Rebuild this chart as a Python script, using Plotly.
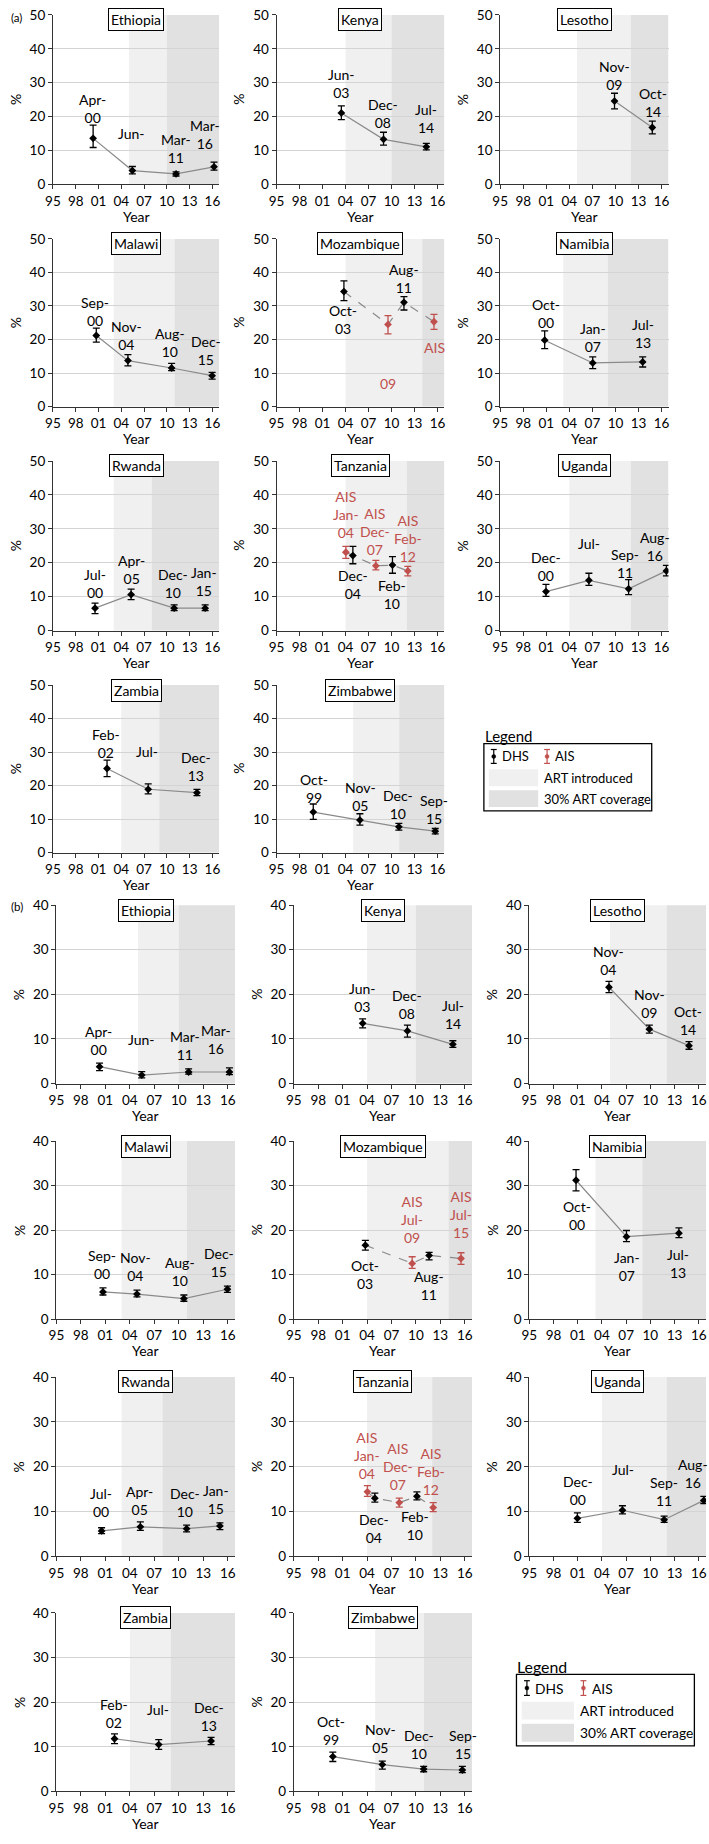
import plotly.graph_objects as go

W, H = 709, 1844
FONT = "Lato"
BLACK = "#000000"
RED = "#c0504d"
LIGHT = "#f0f0f0"
DARK = "#e1e1e1"

countries = ["Ethiopia", "Kenya", "Lesotho", "Malawi", "Mozambique", "Namibia",
             "Rwanda", "Tanzania", "Uganda", "Zambia", "Zimbabwe"]
art_introduced = [2005, 2004, 2005, 2003, 2004, 2003.2, 2003, 2004, 2004, 2004, 2005]
art_coverage30 = [2010, 2010, 2012, 2011, 2014, 2009, 2008, 2012, 2012, 2009, 2011]

tick_vals = [1995, 1998, 2001, 2004, 2007, 2010, 2013, 2016]
tick_text = ["95", "98", "01", "04", "07", "10", "13", "16"]

# ---- DHS survey dates ----
a_dhs_dates = {
    "Ethiopia": ["Apr-00", "Jun-05", "Mar-11", "Mar-16"],
    "Kenya": ["Jun-03", "Dec-08", "Jul-14"],
    "Lesotho": ["Nov-09", "Oct-14"],
    "Malawi": ["Sep-00", "Nov-04", "Aug-10", "Dec-15"],
    "Mozambique": ["Oct-03", "Aug-11"],
    "Namibia": ["Oct-00", "Jan-07", "Jul-13"],
    "Rwanda": ["Jul-00", "Apr-05", "Dec-10", "Jan-15"],
    "Tanzania": ["Dec-04", "Feb-10"],
    "Uganda": ["Dec-00", "Jul-06", "Sep-11", "Aug-16"],
    "Zambia": ["Feb-02", "Jul-07", "Dec-13"],
    "Zimbabwe": ["Oct-99", "Nov-05", "Dec-10", "Sep-15"],
}
b_dhs_dates = dict(a_dhs_dates)
b_dhs_dates["Lesotho"] = ["Nov-04", "Nov-09", "Oct-14"]

ais_dates = {"Mozambique": ["Jul-09", "Jul-15"], "Tanzania": ["Jan-04", "Dec-07", "Feb-12"]}

# ---- panel (a) values ----
a_dhs_val = {
    "Ethiopia": [13.6, 4.1, 3.1, 5.2], "Kenya": [21.1, 13.3, 11.1], "Lesotho": [24.6, 16.8],
    "Malawi": [21.2, 13.7, 11.5, 9.2], "Mozambique": [34.3, 31.1], "Namibia": [19.8, 13.0, 13.3],
    "Rwanda": [6.6, 10.6, 6.6, 6.6], "Tanzania": [22.1, 19.3], "Uganda": [11.5, 14.8, 12.3, 17.6],
    "Zambia": [25.1, 18.9, 17.9], "Zimbabwe": [12.1, 9.7, 7.7, 6.4],
}
a_dhs_lo = {
    "Ethiopia": [10.9, 3.1, 2.5, 4.2], "Kenya": [19.1, 11.6, 10.2], "Lesotho": [22.3, 14.9],
    "Malawi": [19.2, 12.1, 10.7, 8.2], "Mozambique": [31.6, 28.8], "Namibia": [17.3, 11.3, 11.8],
    "Rwanda": [5.0, 9.1, 5.9, 5.9], "Tanzania": [19.7, 16.9], "Uganda": [10.1, 13.3, 10.6, 16.1],
    "Zambia": [22.7, 17.5, 17.0], "Zimbabwe": [9.9, 8.2, 6.7, 5.6],
}
a_dhs_hi = {
    "Ethiopia": [17.5, 5.3, 3.7, 6.6], "Kenya": [23.2, 15.4, 12.1], "Lesotho": [26.9, 18.7],
    "Malawi": [23.4, 15.5, 12.9, 10.2], "Mozambique": [37.5, 32.8], "Namibia": [22.6, 14.8, 14.8],
    "Rwanda": [8.1, 12.2, 7.6, 7.6], "Tanzania": [24.8, 21.8], "Uganda": [13.6, 16.9, 15.0, 19.2],
    "Zambia": [27.6, 20.5, 18.9], "Zimbabwe": [14.5, 11.6, 8.7, 7.2],
}
a_ais_val = {"Mozambique": [24.5, 25.3], "Tanzania": [23.1, 19.1, 17.6]}
a_ais_lo = {"Mozambique": [21.7, 23.0], "Tanzania": [21.3, 17.9, 16.1]}
a_ais_hi = {"Mozambique": [27.1, 27.5], "Tanzania": [24.8, 20.7, 18.9]}

# ---- panel (b) values ----
b_dhs_val = {
    "Ethiopia": [3.8, 1.9, 2.6, 2.6], "Kenya": [13.5, 11.8, 8.8], "Lesotho": [21.6, 12.2, 8.5],
    "Malawi": [6.1, 5.6, 4.6, 6.7], "Mozambique": [16.6, 14.3], "Namibia": [31.2, 18.5, 19.3],
    "Rwanda": [5.7, 6.6, 6.2, 6.8], "Tanzania": [13.0, 13.4], "Uganda": [8.5, 10.3, 8.2, 12.5],
    "Zambia": [11.8, 10.5, 11.3], "Zimbabwe": [7.8, 6.0, 5.0, 4.8],
}
b_dhs_lo = {
    "Ethiopia": [2.9, 1.3, 2.1, 2.0], "Kenya": [12.5, 10.4, 8.1], "Lesotho": [20.4, 11.3, 7.7],
    "Malawi": [5.4, 5.0, 4.0, 6.0], "Mozambique": [15.5, 13.3], "Namibia": [28.8, 17.4, 18.3],
    "Rwanda": [5.1, 5.8, 5.5, 6.0], "Tanzania": [12.1, 12.6], "Uganda": [7.6, 9.5, 7.6, 11.8],
    "Zambia": [10.7, 9.4, 10.5], "Zimbabwe": [6.7, 5.0, 4.4, 4.2],
}
b_dhs_hi = {
    "Ethiopia": [4.6, 2.7, 3.3, 3.5], "Kenya": [14.5, 13.1, 9.6], "Lesotho": [22.9, 13.1, 9.4],
    "Malawi": [7.0, 6.5, 5.4, 7.4], "Mozambique": [17.7, 15.0], "Namibia": [33.6, 19.9, 20.5],
    "Rwanda": [6.4, 7.7, 7.0, 7.5], "Tanzania": [14.1, 14.4], "Uganda": [9.7, 11.3, 9.0, 13.4],
    "Zambia": [12.9, 11.6, 12.1], "Zimbabwe": [8.8, 6.8, 5.6, 5.6],
}
b_ais_val = {"Mozambique": [12.5, 13.6], "Tanzania": [14.4, 12.0, 10.9]}
b_ais_lo = {"Mozambique": [11.4, 12.3], "Tanzania": [13.4, 11.0, 10.0]}
b_ais_hi = {"Mozambique": [14.0, 14.9], "Tanzania": [15.8, 13.0, 12.0]}

# ---- point label placement (text, x in years, y in %, colour key) ----
a_labels = {
    "Ethiopia": [("Apr-<br>00", 2000.2, 22.3, "k"), ("Jun-", 2005.4, 15.1, "k"),
                 ("Mar-<br>11", 2011.2, 10.6, "k"), ("Mar-<br>16", 2015.0, 14.6, "k")],
    "Kenya": [("Jun-<br>03", 2003.5, 29.8, "k"), ("Dec-<br>08", 2008.9, 20.8, "k"), ("Jul-<br>14", 2014.5, 19.4, "k")],
    "Lesotho": [("Nov-<br>09", 2009.9, 32.0, "k"), ("Oct-<br>14", 2014.9, 24.1, "k")],
    "Malawi": [("Sep-<br>00", 2000.6, 28.5, "k"), ("Nov-<br>04", 2004.7, 21.2, "k"),
               ("Aug-<br>10", 2010.4, 19.2, "k"), ("Dec-<br>15", 2015.1, 16.7, "k")],
    "Mozambique": [("Oct-<br>03", 2003.7, 26.0, "k"), ("Aug-<br>11", 2011.6, 38.1, "k"),
                   ("09", 2009.6, 6.9, "r"), ("AIS", 2015.6, 17.7, "r")],
    "Namibia": [("Oct-<br>00", 2000.9, 27.7, "k"), ("Jan-<br>07", 2007.1, 20.7, "k"), ("Jul-<br>13", 2013.6, 21.7, "k")],
    "Rwanda": [("Jul-<br>00", 2000.5, 13.9, "k"), ("Apr-<br>05", 2005.3, 17.9, "k"),
               ("Dec-<br>10", 2010.8, 13.9, "k"), ("Jan-<br>15", 2014.9, 14.6, "k")],
    "Tanzania": [("AIS<br>Jan-<br>04", 2004.1, 34.1, "r"), ("AIS<br>Dec-<br>07", 2007.9, 29.1, "r"),
                 ("AIS<br>Feb-<br>12", 2012.1, 27.2, "r"), ("Dec-<br>04", 2005.0, 13.6, "k"),
                 ("Feb-<br>10", 2010.1, 10.7, "k")],
    "Uganda": [("Dec-<br>00", 2001.0, 18.8, "k"), ("Jul-", 2006.6, 25.7, "k"),
               ("Sep-<br>11", 2011.3, 19.8, "k"), ("Aug-<br>16", 2015.2, 24.9, "k")],
    "Zambia": [("Feb-<br>02", 2002.0, 32.5, "k"), ("Jul-", 2007.4, 30.1, "k"), ("Dec-<br>13", 2013.9, 25.7, "k")],
    "Zimbabwe": [("Oct-<br>99", 1999.9, 19.2, "k"), ("Nov-<br>05", 2005.9, 16.7, "k"),
                 ("Dec-<br>10", 2010.8, 14.5, "k"), ("Sep-<br>15", 2015.6, 12.8, "k")],
}
b_labels = {
    "Ethiopia": [("Apr-<br>00", 2000.2, 9.6, "k"), ("Jun-", 2005.4, 9.9, "k"),
                 ("Mar-<br>11", 2010.8, 8.5, "k"), ("Mar-<br>16", 2014.6, 9.8, "k")],
    "Kenya": [("Jun-<br>03", 2003.4, 19.4, "k"), ("Dec-<br>08", 2008.9, 17.8, "k"), ("Jul-<br>14", 2014.5, 15.4, "k")],
    "Lesotho": [("Nov-<br>04", 2004.85, 27.5, "k"), ("Nov-<br>09", 2009.9, 18.0, "k"), ("Oct-<br>14", 2014.7, 14.2, "k")],
    "Malawi": [("Sep-<br>00", 2000.6, 12.2, "k"), ("Nov-<br>04", 2004.7, 11.7, "k"),
               ("Aug-<br>10", 2010.2, 10.7, "k"), ("Dec-<br>15", 2014.9, 12.8, "k")],
    "Mozambique": [("Oct-<br>03", 2003.7, 9.9, "k"), ("Aug-<br>11", 2011.6, 7.5, "k"),
                   ("AIS<br>Jul-<br>09", 2009.5, 22.3, "r"), ("AIS<br>Jul-<br>15", 2015.5, 23.5, "r")],
    "Namibia": [("Oct-<br>00", 2000.9, 23.3, "k"), ("Jan-<br>07", 2007.1, 11.8, "k"), ("Jul-<br>13", 2013.4, 12.5, "k")],
    "Rwanda": [("Jul-<br>00", 2000.5, 12.1, "k"), ("Apr-<br>05", 2005.2, 12.4, "k"),
               ("Dec-<br>10", 2010.8, 12.1, "k"), ("Jan-<br>15", 2014.6, 12.6, "k")],
    "Tanzania": [("AIS<br>Jan-<br>04", 2004.0, 22.5, "r"), ("AIS<br>Dec-<br>07", 2007.8, 20.0, "r"),
                 ("AIS<br>Feb-<br>12", 2011.9, 18.9, "r"), ("Dec-<br>04", 2004.9, 6.3, "k"),
                 ("Feb-<br>10", 2009.9, 6.8, "k")],
    "Uganda": [("Dec-<br>00", 2001.0, 14.6, "k"), ("Jul-", 2006.6, 19.3, "k"),
               ("Sep-<br>11", 2011.7, 14.5, "k"), ("Aug-<br>16", 2015.3, 18.4, "k")],
    "Zambia": [("Feb-<br>02", 2002.1, 17.4, "k"), ("Jul-", 2007.4, 18.4, "k"), ("Dec-<br>13", 2013.7, 16.9, "k")],
    "Zimbabwe": [("Oct-<br>99", 1999.6, 13.6, "k"), ("Nov-<br>05", 2005.6, 11.8, "k"),
                 ("Dec-<br>10", 2010.4, 10.6, "k"), ("Sep-<br>15", 2015.8, 10.6, "k")],
}

MONTHS = {m: i + 1 for i, m in enumerate(
    ["Jan", "Feb", "Mar", "Apr", "May", "Jun", "Jul", "Aug", "Sep", "Oct", "Nov", "Dec"])}


def to_year(d):
    m, y = d.split("-")
    yy = int(y)
    year = 1900 + yy if yy > 50 else 2000 + yy
    return year + (MONTHS[m] - 0.5) / 12


def px_x(px):
    return px / W


def px_y(py):
    return 1 - py / H


X_END = 2016.9
TICK_FS = 13.5
LABEL_FS = 14
TITLE_FS = 14
AXT_FS = 14

panels = [
    dict(name="a", ymax=50, cols=[(45.5, 214), (272, 442), (498.5, 669)],
         rows=[(7, 178), (233, 402), (457, 628), (683, 852)],
         dates=a_dhs_dates, val=a_dhs_val, lo=a_dhs_lo, hi=a_dhs_hi,
         aval=a_ais_val, alo=a_ais_lo, ahi=a_ais_hi, labels=a_labels),
    dict(name="b", ymax=40, cols=[(49, 230), (289.5, 470), (528, 707)],
         rows=[(905, 1085), (1143, 1322.5), (1381, 1562), (1619, 1799)],
         dates=b_dhs_dates, val=b_dhs_val, lo=b_dhs_lo, hi=b_dhs_hi,
         aval=b_ais_val, alo=b_ais_lo, ahi=b_ais_hi, labels=b_labels),
]

fig = go.Figure()
layout = dict(width=W, height=H, margin=dict(l=0, r=0, t=0, b=0),
              paper_bgcolor="white", plot_bgcolor="white", showlegend=False,
              font=dict(family=FONT, size=13, color=BLACK))
shapes = []
annotations = []

k = 0
for p in panels:
    for i, c in enumerate(countries):
        k += 1
        r, cc = divmod(i, 3)
        x0, x1 = p["cols"][cc]
        y0, y1 = p["rows"][r]
        xa = "x" if k == 1 else f"x{k}"
        ya = "y" if k == 1 else f"y{k}"
        xkey = "xaxis" if k == 1 else f"xaxis{k}"
        ykey = "yaxis" if k == 1 else f"yaxis{k}"
        layout[xkey] = dict(domain=[px_x(x0), px_x(x1)], range=[1995, X_END], anchor=ya,
                            tickvals=tick_vals, ticktext=tick_text, ticks="outside",
                            ticklen=4, tickcolor="#333", showline=True, linecolor="#333",
                            linewidth=1, showgrid=False, zeroline=False,
                            tickfont=dict(size=TICK_FS, family=FONT))
        layout[ykey] = dict(domain=[px_y(y1), px_y(y0)], range=[0, p["ymax"]], anchor=xa,
                            dtick=10, ticks="outside", ticklen=4, tickcolor="#333",
                            showline=True, linecolor="#333", linewidth=1,
                            showgrid=True, gridcolor="#d4d4d4", gridwidth=1, zeroline=False,
                            tickfont=dict(size=TICK_FS, family=FONT))
        # shading
        shapes.append(dict(type="rect", xref=xa, yref=f"{ya} domain", x0=art_introduced[i],
                           x1=art_coverage30[i], y0=0, y1=1, fillcolor=LIGHT,
                           line=dict(width=0), layer="below"))
        shapes.append(dict(type="rect", xref=xa, yref=f"{ya} domain", x0=art_coverage30[i],
                           x1=X_END, y0=0, y1=1, fillcolor=DARK,
                           line=dict(width=0), layer="below"))

        dx = [to_year(d) for d in p["dates"][c]]
        dv = p["val"][c]
        has_ais = c in ais_dates
        pts = list(zip(dx, dv))
        if has_ais:
            ax = [to_year(d) for d in ais_dates[c]]
            av = p["aval"][c]
            pts += list(zip(ax, av))
        pts.sort()
        fig.add_trace(go.Scatter(x=[q[0] for q in pts], y=[q[1] for q in pts], mode="lines",
                                 line=dict(color="#8a8a8a", width=1.2,
                                           dash="dash" if has_ais else "solid"),
                                 xaxis=xa, yaxis=ya, hoverinfo="skip"))
        fig.add_trace(go.Scatter(
            x=dx, y=dv, mode="markers", xaxis=xa, yaxis=ya,
            marker=dict(symbol="diamond", size=6, color=BLACK),
            error_y=dict(type="data", symmetric=False,
                         array=[h - v for h, v in zip(p["hi"][c], dv)],
                         arrayminus=[v - l for l, v in zip(p["lo"][c], dv)],
                         color=BLACK, thickness=1.3, width=3.5)))
        if has_ais:
            fig.add_trace(go.Scatter(
                x=ax, y=av, mode="markers", xaxis=xa, yaxis=ya,
                marker=dict(symbol="diamond", size=6, color=RED),
                error_y=dict(type="data", symmetric=False,
                             array=[h - v for h, v in zip(p["ahi"][c], av)],
                             arrayminus=[v - l for l, v in zip(p["alo"][c], av)],
                             color=RED, thickness=1.3, width=3.5)))
        # point labels
        for (t, lx, ly, col) in p["labels"][c]:
            annotations.append(dict(text=t, x=lx, y=ly, xref=xa, yref=ya, showarrow=False,
                                    xanchor="center", yanchor="middle",
                                    font=dict(size=LABEL_FS, family=FONT,
                                              color=RED if col == "r" else BLACK)))
        # country title box
        annotations.append(dict(text=c, x=(x0 + x1) / 2 / W, y=px_y(y0 + 5), xref="paper",
                                yref="paper", showarrow=False, xanchor="center",
                                yanchor="middle", bgcolor="white", bordercolor=BLACK,
                                borderwidth=1, borderpad=2,
                                font=dict(size=TITLE_FS, family=FONT, color=BLACK)))
        # axis titles
        annotations.append(dict(text="%", x=px_x(x0 - 38), y=px_y((y0 + y1) / 2), xref="paper",
                                yref="paper", showarrow=False, textangle=-90,
                                xanchor="center", yanchor="middle",
                                font=dict(size=AXT_FS, family=FONT)))
        annotations.append(dict(text="Year", x=px_x((x0 + x1) / 2), y=px_y(y1 + 32),
                                xref="paper", yref="paper", showarrow=False,
                                xanchor="center", yanchor="middle",
                                font=dict(size=AXT_FS, family=FONT)))

# panel letters
for t, py in [("(a)", 10), ("(b)", 906)]:
    annotations.append(dict(text=t, x=px_x(1), y=px_y(py), xref="paper", yref="paper",
                            showarrow=False, xanchor="left", yanchor="middle",
                            font=dict(size=11.5, family=FONT)))


# legends
def add_legend(lx, ly, s):
    # lx, ly: top-left of box in px; s: scale
    bw, bh = 170 * s, 68 * s
    annotations.append(dict(text="Legend", x=px_x(lx - 1), y=px_y(ly - 8 * s), xref="paper",
                            yref="paper", showarrow=False, xanchor="left", yanchor="middle",
                            font=dict(size=15 * s, family=FONT)))
    shapes.append(dict(type="rect", xref="paper", yref="paper", x0=px_x(lx), x1=px_x(lx + bw),
                       y0=px_y(ly), y1=px_y(ly + bh), line=dict(color=BLACK, width=1.3),
                       fillcolor="white", layer="above"))
    ry = ly + 13 * s
    for ix, col, name in [(lx + 10 * s, BLACK, "DHS"), (lx + 64 * s, RED, "AIS")]:
        shapes.append(dict(type="line", xref="paper", yref="paper", x0=px_x(ix), x1=px_x(ix),
                           y0=px_y(ry - 7 * s), y1=px_y(ry + 7 * s), line=dict(color=col, width=1.2)))
        for cy in (ry - 7 * s, ry + 7 * s):
            shapes.append(dict(type="line", xref="paper", yref="paper", x0=px_x(ix - 3),
                               x1=px_x(ix + 3), y0=px_y(cy), y1=px_y(cy),
                               line=dict(color=col, width=1.2)))
        shapes.append(dict(type="circle", xref="paper", yref="paper", x0=px_x(ix - 2),
                           x1=px_x(ix + 2), y0=px_y(ry + 2), y1=px_y(ry - 2),
                           fillcolor=col, line=dict(color=col, width=0.5)))
        annotations.append(dict(text=name, x=px_x(ix + 6 * s), y=px_y(ry), xref="paper",
                                yref="paper", showarrow=False, xanchor="left", yanchor="middle",
                                font=dict(size=13 * s, family=FONT)))
    for j, (fc, name) in enumerate([(LIGHT, "ART introduced"), (DARK, "30% ART coverage")]):
        sy = ly + 26 * s + j * 21 * s
        shapes.append(dict(type="rect", xref="paper", yref="paper", x0=px_x(lx + 5 * s),
                           x1=px_x(lx + 55 * s), y0=px_y(sy), y1=px_y(sy + 17 * s),
                           fillcolor=fc, line=dict(width=0), layer="above"))
        annotations.append(dict(text=name, x=px_x(lx + 59 * s), y=px_y(sy + 8.5 * s),
                                xref="paper", yref="paper", showarrow=False, xanchor="left",
                                yanchor="middle", font=dict(size=13 * s, family=FONT)))


add_legend(482, 742, 1.0)
add_legend(515, 1681, 1.06)

layout["shapes"] = shapes
layout["annotations"] = annotations
fig.update_layout(**layout)
fig.write_html("out.html", config={"displayModeBar": False},
               post_script="document.body.style.margin='0px';")
